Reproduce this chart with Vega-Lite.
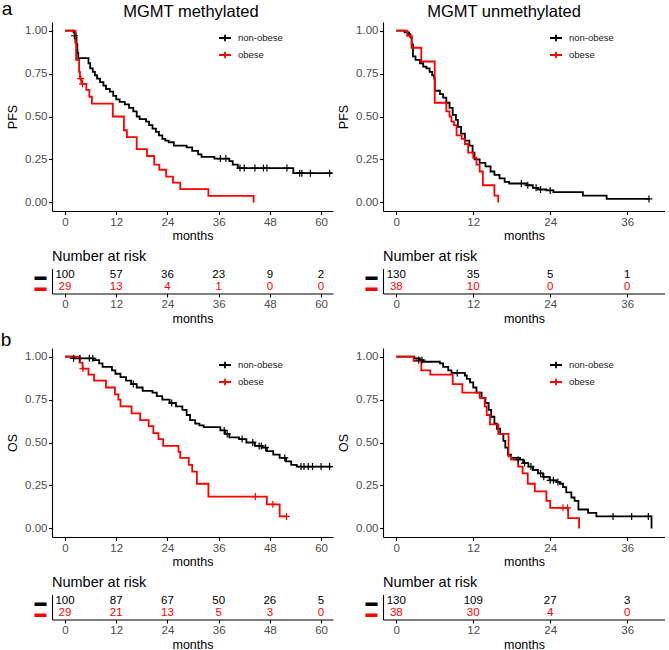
{
  "$schema": "https://vega.github.io/schema/vega-lite/v6.json",
  "padding": {"left": 0, "top": 0, "right": 0, "bottom": 0},
  "config": {
    "font": "Liberation Sans",
    "view": {"stroke": null},
    "axis": {"grid": false, "domainColor": "#000000", "domainWidth": 1.1, "tickColor": "#000000", "tickWidth": 1.1, "tickSize": 3.5, "labelColor": "#4D4D4D", "labelFontSize": 11.5, "labelPadding": 1.5, "titleFontSize": 12.5, "titleFontWeight": "normal", "titleColor": "#000000", "titlePadding": 2},
    "axisY": {"titlePadding": 5},
    "title": {"fontSize": 14.5, "fontWeight": "normal", "color": "#000000", "offset": 4, "frame": "group", "anchor": "start"},
    "legend": {"labelFontSize": 9.5, "labelColor": "#1a1a1a", "padding": 0, "rowPadding": 3, "symbolStrokeWidth": 1.8, "labelOffset": 6, "symbolType": "M-1,0H1M0,-0.55V0.55", "symbolSize": 144, "title": null}
  },
  "columns": 2,
  "spacing": {"row": 6.5, "column": 1},
  "align": "each",
  "resolve": {"scale": {"color": "independent", "x": "independent", "y": "independent"}, "legend": {"color": "independent"}},
  "datasets": {
    "km": [
      {"p":"A1","g":"non-obese","t":0,"s":1},{"p":"A1","g":"non-obese","t":2.0,"s":0.99},{"p":"A1","g":"non-obese","t":2.5,"s":0.96},{"p":"A1","g":"non-obese","t":2.7,"s":0.92},{"p":"A1","g":"non-obese","t":2.9,"s":0.87},{"p":"A1","g":"non-obese","t":3.1,"s":0.84},{"p":"A1","g":"non-obese","t":5.5,"s":0.81},{"p":"A1","g":"non-obese","t":5.9,"s":0.78},{"p":"A1","g":"non-obese","t":6.5,"s":0.76},{"p":"A1","g":"non-obese","t":7.0,"s":0.74},{"p":"A1","g":"non-obese","t":7.5,"s":0.72},{"p":"A1","g":"non-obese","t":8.2,"s":0.70},{"p":"A1","g":"non-obese","t":9.0,"s":0.68},{"p":"A1","g":"non-obese","t":9.6,"s":0.66},{"p":"A1","g":"non-obese","t":10.5,"s":0.645},{"p":"A1","g":"non-obese","t":11.3,"s":0.62},{"p":"A1","g":"non-obese","t":12.0,"s":0.60},{"p":"A1","g":"non-obese","t":12.8,"s":0.585},{"p":"A1","g":"non-obese","t":14.0,"s":0.57},{"p":"A1","g":"non-obese","t":15.0,"s":0.55},{"p":"A1","g":"non-obese","t":16.0,"s":0.53},{"p":"A1","g":"non-obese","t":16.8,"s":0.50},{"p":"A1","g":"non-obese","t":17.5,"s":0.485},{"p":"A1","g":"non-obese","t":19.0,"s":0.47},{"p":"A1","g":"non-obese","t":19.7,"s":0.45},{"p":"A1","g":"non-obese","t":20.5,"s":0.43},{"p":"A1","g":"non-obese","t":21.3,"s":0.41},{"p":"A1","g":"non-obese","t":22.0,"s":0.39},{"p":"A1","g":"non-obese","t":22.8,"s":0.37},{"p":"A1","g":"non-obese","t":23.5,"s":0.36},{"p":"A1","g":"non-obese","t":24.3,"s":0.35},{"p":"A1","g":"non-obese","t":25.5,"s":0.33},{"p":"A1","g":"non-obese","t":28.5,"s":0.32},{"p":"A1","g":"non-obese","t":29.8,"s":0.30},{"p":"A1","g":"non-obese","t":31.2,"s":0.28},{"p":"A1","g":"non-obese","t":32.0,"s":0.265},{"p":"A1","g":"non-obese","t":35.0,"s":0.255},{"p":"A1","g":"non-obese","t":38.5,"s":0.24},{"p":"A1","g":"non-obese","t":39.3,"s":0.22},{"p":"A1","g":"non-obese","t":40.5,"s":0.20},{"p":"A1","g":"non-obese","t":53.5,"s":0.17},{"p":"A1","g":"non-obese","t":62.5,"s":0.17},
      {"p":"A1","g":"obese","t":0,"s":1},{"p":"A1","g":"obese","t":2.4,"s":0.93},{"p":"A1","g":"obese","t":2.6,"s":0.83},{"p":"A1","g":"obese","t":3.3,"s":0.76},{"p":"A1","g":"obese","t":3.5,"s":0.72},{"p":"A1","g":"obese","t":3.9,"s":0.69},{"p":"A1","g":"obese","t":5.0,"s":0.655},{"p":"A1","g":"obese","t":5.7,"s":0.615},{"p":"A1","g":"obese","t":6.3,"s":0.575},{"p":"A1","g":"obese","t":11.2,"s":0.50},{"p":"A1","g":"obese","t":13.8,"s":0.42},{"p":"A1","g":"obese","t":14.5,"s":0.38},{"p":"A1","g":"obese","t":16.8,"s":0.31},{"p":"A1","g":"obese","t":19.2,"s":0.27},{"p":"A1","g":"obese","t":20.9,"s":0.22},{"p":"A1","g":"obese","t":22.1,"s":0.19},{"p":"A1","g":"obese","t":23.7,"s":0.15},{"p":"A1","g":"obese","t":25.3,"s":0.115},{"p":"A1","g":"obese","t":27.0,"s":0.077},{"p":"A1","g":"obese","t":33.6,"s":0.038},{"p":"A1","g":"obese","t":44.2,"s":0.0},
      {"p":"A2","g":"non-obese","t":0,"s":1},{"p":"A2","g":"non-obese","t":1.3,"s":0.99},{"p":"A2","g":"non-obese","t":2.0,"s":0.98},{"p":"A2","g":"non-obese","t":2.2,"s":0.96},{"p":"A2","g":"non-obese","t":2.4,"s":0.92},{"p":"A2","g":"non-obese","t":2.6,"s":0.85},{"p":"A2","g":"non-obese","t":3.0,"s":0.83},{"p":"A2","g":"non-obese","t":3.7,"s":0.81},{"p":"A2","g":"non-obese","t":4.2,"s":0.79},{"p":"A2","g":"non-obese","t":4.7,"s":0.78},{"p":"A2","g":"non-obese","t":5.2,"s":0.76},{"p":"A2","g":"non-obese","t":5.6,"s":0.74},{"p":"A2","g":"non-obese","t":5.9,"s":0.72},{"p":"A2","g":"non-obese","t":6.0,"s":0.65},{"p":"A2","g":"non-obese","t":6.8,"s":0.63},{"p":"A2","g":"non-obese","t":7.3,"s":0.61},{"p":"A2","g":"non-obese","t":7.8,"s":0.58},{"p":"A2","g":"non-obese","t":8.3,"s":0.55},{"p":"A2","g":"non-obese","t":8.8,"s":0.51},{"p":"A2","g":"non-obese","t":9.3,"s":0.48},{"p":"A2","g":"non-obese","t":9.6,"s":0.44},{"p":"A2","g":"non-obese","t":10.1,"s":0.40},{"p":"A2","g":"non-obese","t":10.7,"s":0.36},{"p":"A2","g":"non-obese","t":11.4,"s":0.33},{"p":"A2","g":"non-obese","t":11.9,"s":0.29},{"p":"A2","g":"non-obese","t":12.2,"s":0.25},{"p":"A2","g":"non-obese","t":13.0,"s":0.23},{"p":"A2","g":"non-obese","t":13.9,"s":0.21},{"p":"A2","g":"non-obese","t":14.7,"s":0.18},{"p":"A2","g":"non-obese","t":15.3,"s":0.16},{"p":"A2","g":"non-obese","t":16.1,"s":0.14},{"p":"A2","g":"non-obese","t":16.9,"s":0.12},{"p":"A2","g":"non-obese","t":17.6,"s":0.11},{"p":"A2","g":"non-obese","t":20.3,"s":0.10},{"p":"A2","g":"non-obese","t":21.3,"s":0.085},{"p":"A2","g":"non-obese","t":22.1,"s":0.075},{"p":"A2","g":"non-obese","t":23.4,"s":0.07},{"p":"A2","g":"non-obese","t":24.5,"s":0.06},{"p":"A2","g":"non-obese","t":29.1,"s":0.04},{"p":"A2","g":"non-obese","t":32.8,"s":0.02},{"p":"A2","g":"non-obese","t":39.5,"s":0.02},
      {"p":"A2","g":"obese","t":0,"s":1},{"p":"A2","g":"obese","t":1.7,"s":0.97},{"p":"A2","g":"obese","t":2.4,"s":0.90},{"p":"A2","g":"obese","t":3.9,"s":0.82},{"p":"A2","g":"obese","t":6.0,"s":0.58},{"p":"A2","g":"obese","t":7.8,"s":0.53},{"p":"A2","g":"obese","t":8.3,"s":0.50},{"p":"A2","g":"obese","t":8.6,"s":0.47},{"p":"A2","g":"obese","t":9.0,"s":0.45},{"p":"A2","g":"obese","t":9.4,"s":0.39},{"p":"A2","g":"obese","t":10.2,"s":0.37},{"p":"A2","g":"obese","t":10.7,"s":0.34},{"p":"A2","g":"obese","t":11.2,"s":0.29},{"p":"A2","g":"obese","t":12.0,"s":0.26},{"p":"A2","g":"obese","t":12.5,"s":0.22},{"p":"A2","g":"obese","t":13.0,"s":0.18},{"p":"A2","g":"obese","t":13.5,"s":0.10},{"p":"A2","g":"obese","t":15.3,"s":0.04},{"p":"A2","g":"obese","t":15.9,"s":0.0},
      {"p":"B1","g":"non-obese","t":0,"s":1},{"p":"B1","g":"non-obese","t":2.2,"s":0.99},{"p":"B1","g":"non-obese","t":6.6,"s":0.98},{"p":"B1","g":"non-obese","t":8.0,"s":0.96},{"p":"B1","g":"non-obese","t":8.8,"s":0.94},{"p":"B1","g":"non-obese","t":11.0,"s":0.92},{"p":"B1","g":"non-obese","t":11.8,"s":0.90},{"p":"B1","g":"non-obese","t":13.0,"s":0.88},{"p":"B1","g":"non-obese","t":14.3,"s":0.86},{"p":"B1","g":"non-obese","t":15.5,"s":0.84},{"p":"B1","g":"non-obese","t":16.8,"s":0.82},{"p":"B1","g":"non-obese","t":18.2,"s":0.80},{"p":"B1","g":"non-obese","t":20.5,"s":0.79},{"p":"B1","g":"non-obese","t":21.5,"s":0.77},{"p":"B1","g":"non-obese","t":22.8,"s":0.75},{"p":"B1","g":"non-obese","t":24.5,"s":0.73},{"p":"B1","g":"non-obese","t":26.0,"s":0.71},{"p":"B1","g":"non-obese","t":27.5,"s":0.69},{"p":"B1","g":"non-obese","t":28.5,"s":0.66},{"p":"B1","g":"non-obese","t":29.3,"s":0.63},{"p":"B1","g":"non-obese","t":30.5,"s":0.61},{"p":"B1","g":"non-obese","t":31.5,"s":0.60},{"p":"B1","g":"non-obese","t":32.5,"s":0.59},{"p":"B1","g":"non-obese","t":36.4,"s":0.57},{"p":"B1","g":"non-obese","t":37.5,"s":0.55},{"p":"B1","g":"non-obese","t":38.5,"s":0.53},{"p":"B1","g":"non-obese","t":40.8,"s":0.52},{"p":"B1","g":"non-obese","t":42.5,"s":0.50},{"p":"B1","g":"non-obese","t":44.5,"s":0.48},{"p":"B1","g":"non-obese","t":46.3,"s":0.47},{"p":"B1","g":"non-obese","t":47.3,"s":0.45},{"p":"B1","g":"non-obese","t":48.8,"s":0.43},{"p":"B1","g":"non-obese","t":50.3,"s":0.41},{"p":"B1","g":"non-obese","t":51.8,"s":0.39},{"p":"B1","g":"non-obese","t":53.0,"s":0.37},{"p":"B1","g":"non-obese","t":54.3,"s":0.36},{"p":"B1","g":"non-obese","t":62.5,"s":0.36},
      {"p":"B1","g":"obese","t":0,"s":1},{"p":"B1","g":"obese","t":3.4,"s":0.965},{"p":"B1","g":"obese","t":4.1,"s":0.93},{"p":"B1","g":"obese","t":5.5,"s":0.895},{"p":"B1","g":"obese","t":6.8,"s":0.86},{"p":"B1","g":"obese","t":9.6,"s":0.82},{"p":"B1","g":"obese","t":11.7,"s":0.78},{"p":"B1","g":"obese","t":12.5,"s":0.75},{"p":"B1","g":"obese","t":13.0,"s":0.71},{"p":"B1","g":"obese","t":15.6,"s":0.67},{"p":"B1","g":"obese","t":17.6,"s":0.63},{"p":"B1","g":"obese","t":19.6,"s":0.595},{"p":"B1","g":"obese","t":20.7,"s":0.555},{"p":"B1","g":"obese","t":21.9,"s":0.52},{"p":"B1","g":"obese","t":23.0,"s":0.48},{"p":"B1","g":"obese","t":26.6,"s":0.445},{"p":"B1","g":"obese","t":27.0,"s":0.41},{"p":"B1","g":"obese","t":29.0,"s":0.37},{"p":"B1","g":"obese","t":29.8,"s":0.33},{"p":"B1","g":"obese","t":30.9,"s":0.26},{"p":"B1","g":"obese","t":33.6,"s":0.185},{"p":"B1","g":"obese","t":47.3,"s":0.14},{"p":"B1","g":"obese","t":50.3,"s":0.07},{"p":"B1","g":"obese","t":52.0,"s":0.07},
      {"p":"B2","g":"non-obese","t":0,"s":1},{"p":"B2","g":"non-obese","t":2.8,"s":0.99},{"p":"B2","g":"non-obese","t":3.7,"s":0.98},{"p":"B2","g":"non-obese","t":4.2,"s":0.97},{"p":"B2","g":"non-obese","t":6.8,"s":0.96},{"p":"B2","g":"non-obese","t":7.3,"s":0.94},{"p":"B2","g":"non-obese","t":8.1,"s":0.92},{"p":"B2","g":"non-obese","t":8.6,"s":0.905},{"p":"B2","g":"non-obese","t":10.7,"s":0.89},{"p":"B2","g":"non-obese","t":11.0,"s":0.87},{"p":"B2","g":"non-obese","t":11.5,"s":0.85},{"p":"B2","g":"non-obese","t":12.0,"s":0.82},{"p":"B2","g":"non-obese","t":12.5,"s":0.79},{"p":"B2","g":"non-obese","t":13.3,"s":0.76},{"p":"B2","g":"non-obese","t":13.9,"s":0.73},{"p":"B2","g":"non-obese","t":14.4,"s":0.69},{"p":"B2","g":"non-obese","t":14.8,"s":0.65},{"p":"B2","g":"non-obese","t":15.3,"s":0.61},{"p":"B2","g":"non-obese","t":15.7,"s":0.58},{"p":"B2","g":"non-obese","t":16.2,"s":0.55},{"p":"B2","g":"non-obese","t":16.7,"s":0.51},{"p":"B2","g":"non-obese","t":17.0,"s":0.47},{"p":"B2","g":"non-obese","t":17.4,"s":0.43},{"p":"B2","g":"non-obese","t":17.9,"s":0.41},{"p":"B2","g":"non-obese","t":19.3,"s":0.40},{"p":"B2","g":"non-obese","t":19.8,"s":0.38},{"p":"B2","g":"non-obese","t":20.6,"s":0.36},{"p":"B2","g":"non-obese","t":21.3,"s":0.34},{"p":"B2","g":"non-obese","t":22.1,"s":0.32},{"p":"B2","g":"non-obese","t":22.9,"s":0.30},{"p":"B2","g":"non-obese","t":23.9,"s":0.28},{"p":"B2","g":"non-obese","t":25.0,"s":0.27},{"p":"B2","g":"non-obese","t":25.5,"s":0.26},{"p":"B2","g":"non-obese","t":26.0,"s":0.24},{"p":"B2","g":"non-obese","t":26.5,"s":0.21},{"p":"B2","g":"non-obese","t":27.3,"s":0.18},{"p":"B2","g":"non-obese","t":27.8,"s":0.16},{"p":"B2","g":"non-obese","t":28.4,"s":0.11},{"p":"B2","g":"non-obese","t":29.9,"s":0.09},{"p":"B2","g":"non-obese","t":31.2,"s":0.07},{"p":"B2","g":"non-obese","t":39.8,"s":0.0},
      {"p":"B2","g":"obese","t":0,"s":1},{"p":"B2","g":"obese","t":2.7,"s":0.975},{"p":"B2","g":"obese","t":3.9,"s":0.92},{"p":"B2","g":"obese","t":5.3,"s":0.895},{"p":"B2","g":"obese","t":8.8,"s":0.84},{"p":"B2","g":"obese","t":10.3,"s":0.79},{"p":"B2","g":"obese","t":13.0,"s":0.76},{"p":"B2","g":"obese","t":13.8,"s":0.71},{"p":"B2","g":"obese","t":14.1,"s":0.66},{"p":"B2","g":"obese","t":14.6,"s":0.605},{"p":"B2","g":"obese","t":15.9,"s":0.55},{"p":"B2","g":"obese","t":17.5,"s":0.42},{"p":"B2","g":"obese","t":17.9,"s":0.40},{"p":"B2","g":"obese","t":19.0,"s":0.36},{"p":"B2","g":"obese","t":19.7,"s":0.32},{"p":"B2","g":"obese","t":20.5,"s":0.26},{"p":"B2","g":"obese","t":21.6,"s":0.215},{"p":"B2","g":"obese","t":23.4,"s":0.16},{"p":"B2","g":"obese","t":24.0,"s":0.12},{"p":"B2","g":"obese","t":26.8,"s":0.06},{"p":"B2","g":"obese","t":28.5,"s":0.0}
    ],
    "cens": [
      {"p":"A1","g":"non-obese","t":2.2,"s":0.97},{"p":"A1","g":"non-obese","t":36.4,"s":0.255},{"p":"A1","g":"non-obese","t":37.7,"s":0.255},{"p":"A1","g":"non-obese","t":41.0,"s":0.20},{"p":"A1","g":"non-obese","t":42.0,"s":0.20},{"p":"A1","g":"non-obese","t":44.5,"s":0.20},{"p":"A1","g":"non-obese","t":46.5,"s":0.20},{"p":"A1","g":"non-obese","t":47.3,"s":0.20},{"p":"A1","g":"non-obese","t":52.0,"s":0.20},{"p":"A1","g":"non-obese","t":55.0,"s":0.17},{"p":"A1","g":"non-obese","t":55.5,"s":0.17},{"p":"A1","g":"non-obese","t":57.5,"s":0.17},{"p":"A1","g":"non-obese","t":62.0,"s":0.17},
      {"p":"A1","g":"obese","t":3.7,"s":0.72},{"p":"A1","g":"obese","t":4.1,"s":0.69},
      {"p":"A2","g":"non-obese","t":19.5,"s":0.11},{"p":"A2","g":"non-obese","t":20.5,"s":0.10},{"p":"A2","g":"non-obese","t":21.8,"s":0.085},{"p":"A2","g":"non-obese","t":22.5,"s":0.075},{"p":"A2","g":"non-obese","t":24.0,"s":0.07},{"p":"A2","g":"non-obese","t":39.4,"s":0.02},
      {"p":"B1","g":"non-obese","t":2.0,"s":0.99},{"p":"B1","g":"non-obese","t":3.5,"s":0.99},{"p":"B1","g":"non-obese","t":5.7,"s":0.99},{"p":"B1","g":"non-obese","t":6.5,"s":0.99},{"p":"B1","g":"non-obese","t":16.0,"s":0.84},{"p":"B1","g":"non-obese","t":25.0,"s":0.73},{"p":"B1","g":"non-obese","t":37.3,"s":0.57},{"p":"B1","g":"non-obese","t":38.0,"s":0.55},{"p":"B1","g":"non-obese","t":41.5,"s":0.52},{"p":"B1","g":"non-obese","t":44.0,"s":0.50},{"p":"B1","g":"non-obese","t":45.5,"s":0.48},{"p":"B1","g":"non-obese","t":46.0,"s":0.48},{"p":"B1","g":"non-obese","t":47.0,"s":0.47},{"p":"B1","g":"non-obese","t":51.5,"s":0.41},{"p":"B1","g":"non-obese","t":55.3,"s":0.36},{"p":"B1","g":"non-obese","t":56.0,"s":0.36},{"p":"B1","g":"non-obese","t":57.0,"s":0.36},{"p":"B1","g":"non-obese","t":58.0,"s":0.36},{"p":"B1","g":"non-obese","t":60.0,"s":0.36},{"p":"B1","g":"non-obese","t":62.0,"s":0.36},
      {"p":"B1","g":"obese","t":4.2,"s":0.93},{"p":"B1","g":"obese","t":44.6,"s":0.185},{"p":"B1","g":"obese","t":48.7,"s":0.14},{"p":"B1","g":"obese","t":51.9,"s":0.07},
      {"p":"B2","g":"non-obese","t":3.5,"s":0.98},{"p":"B2","g":"non-obese","t":4.0,"s":0.98},{"p":"B2","g":"non-obese","t":9.5,"s":0.905},{"p":"B2","g":"non-obese","t":19.0,"s":0.40},{"p":"B2","g":"non-obese","t":20.0,"s":0.38},{"p":"B2","g":"non-obese","t":21.0,"s":0.36},{"p":"B2","g":"non-obese","t":22.5,"s":0.32},{"p":"B2","g":"non-obese","t":23.0,"s":0.30},{"p":"B2","g":"non-obese","t":24.0,"s":0.28},{"p":"B2","g":"non-obese","t":24.5,"s":0.28},{"p":"B2","g":"non-obese","t":25.2,"s":0.27},{"p":"B2","g":"non-obese","t":33.8,"s":0.07},{"p":"B2","g":"non-obese","t":36.7,"s":0.07},{"p":"B2","g":"non-obese","t":39.3,"s":0.07},
      {"p":"B2","g":"obese","t":26.0,"s":0.12},{"p":"B2","g":"obese","t":26.7,"s":0.12}
    ],
    "risk": [
      {"p":"A1","g":"non-obese","t":0,"n":100},{"p":"A1","g":"non-obese","t":12,"n":57},{"p":"A1","g":"non-obese","t":24,"n":36},{"p":"A1","g":"non-obese","t":36,"n":23},{"p":"A1","g":"non-obese","t":48,"n":9},{"p":"A1","g":"non-obese","t":60,"n":2},
      {"p":"A1","g":"obese","t":0,"n":29},{"p":"A1","g":"obese","t":12,"n":13},{"p":"A1","g":"obese","t":24,"n":4},{"p":"A1","g":"obese","t":36,"n":1},{"p":"A1","g":"obese","t":48,"n":0},{"p":"A1","g":"obese","t":60,"n":0},
      {"p":"A2","g":"non-obese","t":0,"n":130},{"p":"A2","g":"non-obese","t":12,"n":35},{"p":"A2","g":"non-obese","t":24,"n":5},{"p":"A2","g":"non-obese","t":36,"n":1},
      {"p":"A2","g":"obese","t":0,"n":38},{"p":"A2","g":"obese","t":12,"n":10},{"p":"A2","g":"obese","t":24,"n":0},{"p":"A2","g":"obese","t":36,"n":0},
      {"p":"B1","g":"non-obese","t":0,"n":100},{"p":"B1","g":"non-obese","t":12,"n":87},{"p":"B1","g":"non-obese","t":24,"n":67},{"p":"B1","g":"non-obese","t":36,"n":50},{"p":"B1","g":"non-obese","t":48,"n":26},{"p":"B1","g":"non-obese","t":60,"n":5},
      {"p":"B1","g":"obese","t":0,"n":29},{"p":"B1","g":"obese","t":12,"n":21},{"p":"B1","g":"obese","t":24,"n":13},{"p":"B1","g":"obese","t":36,"n":5},{"p":"B1","g":"obese","t":48,"n":3},{"p":"B1","g":"obese","t":60,"n":0},
      {"p":"B2","g":"non-obese","t":0,"n":130},{"p":"B2","g":"non-obese","t":12,"n":109},{"p":"B2","g":"non-obese","t":24,"n":27},{"p":"B2","g":"non-obese","t":36,"n":3},
      {"p":"B2","g":"obese","t":0,"n":38},{"p":"B2","g":"obese","t":12,"n":30},{"p":"B2","g":"obese","t":24,"n":4},{"p":"B2","g":"obese","t":36,"n":0}
    ],
    "labels": [
      {"p":"A1","k":"tag","label":"a"},
      {"p":"A1","k":"title","label":"MGMT methylated"},
      {"p":"A2","k":"title","label":"MGMT unmethylated"},
      {"p":"B1","k":"tag","label":"b"}
    ]
  },
  "concat": [
    {
      "width": 281, "height": 189,
      "layer": [
        {"data": {"name": "km"}, "transform": [{"filter": "datum.p === 'A1'"}],
         "mark": {"type": "line", "interpolate": "step-after", "strokeWidth": 1.8, "clip": true},
         "encoding": {
           "x": {"field": "t", "type": "quantitative", "scale": {"domain": [-3.05, 62.8], "nice": false, "zero": false}, "axis": {"values": [0, 12, 24, 36, 48, 60], "title": "months"}},
           "y": {"field": "s", "type": "quantitative", "scale": {"domain": [-0.05, 1.05], "nice": false}, "axis": {"values": [0, 0.25, 0.5, 0.75, 1], "format": ".2f", "title": "PFS"}},
           "color": {"field": "g", "type": "nominal", "scale": {"domain": ["non-obese", "obese"], "range": ["#000000", "#FF0000"]}, "legend": {"orient": "none", "legendX": 166, "legendY": 9}}
         }},
        {"data": {"name": "cens"}, "transform": [{"filter": "datum.p === 'A1'"}],
         "mark": {"type": "point", "shape": "M-1,0H1M0,-1V1", "filled": false, "size": 49, "strokeWidth": 1.2, "opacity": 1},
         "encoding": {
           "x": {"field": "t", "type": "quantitative"},
           "y": {"field": "s", "type": "quantitative"},
           "color": {"field": "g", "type": "nominal"}
         }},
        {"data": {"name": "labels"}, "transform": [{"filter": "datum.p === 'A1' && datum.k === 'tag'"}],
         "mark": {"type": "text", "fontSize": 19, "align": "center", "baseline": "alphabetic", "color": "#000000"},
         "encoding": {"x": {"datum": -13.6}, "y": {"datum": 1.089}, "text": {"field": "label"}}},
        {"data": {"name": "labels"}, "transform": [{"filter": "datum.p === 'A1' && datum.k === 'title'"}],
         "mark": {"type": "text", "fontSize": 16.5, "align": "center", "baseline": "alphabetic", "color": "#000000"},
         "encoding": {"x": {"datum": 29.5}, "y": {"datum": 1.077}, "text": {"field": "label"}}}
      ]
    },
    {
      "width": 282, "height": 189,
      "layer": [
        {"data": {"name": "km"}, "transform": [{"filter": "datum.p === 'A2'"}],
         "mark": {"type": "line", "interpolate": "step-after", "strokeWidth": 1.8, "clip": true},
         "encoding": {
           "x": {"field": "t", "type": "quantitative", "scale": {"domain": [-2.07, 41.9], "nice": false, "zero": false}, "axis": {"values": [0, 12, 24, 36], "title": "months"}},
           "y": {"field": "s", "type": "quantitative", "scale": {"domain": [-0.05, 1.05], "nice": false}, "axis": {"values": [0, 0.25, 0.5, 0.75, 1], "format": ".2f", "title": "PFS"}},
           "color": {"field": "g", "type": "nominal", "scale": {"domain": ["non-obese", "obese"], "range": ["#000000", "#FF0000"]}, "legend": {"orient": "none", "legendX": 166, "legendY": 9}}
         }},
        {"data": {"name": "cens"}, "transform": [{"filter": "datum.p === 'A2'"}],
         "mark": {"type": "point", "shape": "M-1,0H1M0,-1V1", "filled": false, "size": 49, "strokeWidth": 1.2, "opacity": 1},
         "encoding": {
           "x": {"field": "t", "type": "quantitative"},
           "y": {"field": "s", "type": "quantitative"},
           "color": {"field": "g", "type": "nominal"}
         }},
        {"data": {"name": "labels"}, "transform": [{"filter": "datum.p === 'A2' && datum.k === 'title'"}],
         "mark": {"type": "text", "fontSize": 16.5, "align": "center", "baseline": "alphabetic", "color": "#000000"},
         "encoding": {"x": {"datum": 16.8}, "y": {"datum": 1.077}, "text": {"field": "label"}}}
      ]
    },
    {
      "width": 281, "height": 25,
      "title": {"text": "Number at risk"},
      "data": {"name": "risk"}, "transform": [{"filter": "datum.p === 'A1'"}],
      "mark": {"type": "text", "fontSize": 11.5, "baseline": "middle"},
      "encoding": {
        "x": {"field": "t", "type": "quantitative", "scale": {"domain": [-3.05, 62.8], "nice": false, "zero": false}, "axis": {"values": [0, 12, 24, 36, 48, 60], "title": "months"}},
        "y": {"field": "g", "type": "nominal", "scale": {"type": "point", "domain": ["non-obese", "obese"], "padding": 0.636}, "axis": {"title": null, "ticks": false, "labelExpr": "'▬'", "labelFontSize": 12, "labelPadding": 6, "labelColor": {"condition": {"test": "datum.value === 'obese'", "value": "#FF0000"}, "value": "#000000"}}},
        "text": {"field": "n", "type": "quantitative"},
        "color": {"field": "g", "type": "nominal", "scale": {"domain": ["non-obese", "obese"], "range": ["#000000", "#FF0000"]}, "legend": null}
      }
    },
    {
      "width": 282, "height": 25,
      "title": {"text": "Number at risk"},
      "data": {"name": "risk"}, "transform": [{"filter": "datum.p === 'A2'"}],
      "mark": {"type": "text", "fontSize": 11.5, "baseline": "middle"},
      "encoding": {
        "x": {"field": "t", "type": "quantitative", "scale": {"domain": [-2.07, 41.9], "nice": false, "zero": false}, "axis": {"values": [0, 12, 24, 36], "title": "months"}},
        "y": {"field": "g", "type": "nominal", "scale": {"type": "point", "domain": ["non-obese", "obese"], "padding": 0.636}, "axis": {"title": null, "ticks": false, "labelExpr": "'▬'", "labelFontSize": 12, "labelPadding": 6, "labelColor": {"condition": {"test": "datum.value === 'obese'", "value": "#FF0000"}, "value": "#000000"}}},
        "text": {"field": "n", "type": "quantitative"},
        "color": {"field": "g", "type": "nominal", "scale": {"domain": ["non-obese", "obese"], "range": ["#000000", "#FF0000"]}, "legend": null}
      }
    },
    {
      "width": 281, "height": 189,
      "layer": [
        {"data": {"name": "km"}, "transform": [{"filter": "datum.p === 'B1'"}],
         "mark": {"type": "line", "interpolate": "step-after", "strokeWidth": 1.8, "clip": true},
         "encoding": {
           "x": {"field": "t", "type": "quantitative", "scale": {"domain": [-3.05, 62.8], "nice": false, "zero": false}, "axis": {"values": [0, 12, 24, 36, 48, 60], "title": "months"}},
           "y": {"field": "s", "type": "quantitative", "scale": {"domain": [-0.05, 1.05], "nice": false}, "axis": {"values": [0, 0.25, 0.5, 0.75, 1], "format": ".2f", "title": "OS"}},
           "color": {"field": "g", "type": "nominal", "scale": {"domain": ["non-obese", "obese"], "range": ["#000000", "#FF0000"]}, "legend": {"orient": "none", "legendX": 166, "legendY": 10}}
         }},
        {"data": {"name": "cens"}, "transform": [{"filter": "datum.p === 'B1'"}],
         "mark": {"type": "point", "shape": "M-1,0H1M0,-1V1", "filled": false, "size": 49, "strokeWidth": 1.2, "opacity": 1},
         "encoding": {
           "x": {"field": "t", "type": "quantitative"},
           "y": {"field": "s", "type": "quantitative"},
           "color": {"field": "g", "type": "nominal"}
         }},
        {"data": {"name": "labels"}, "transform": [{"filter": "datum.p === 'B1' && datum.k === 'tag'"}],
         "mark": {"type": "text", "fontSize": 19, "align": "center", "baseline": "alphabetic", "color": "#000000"},
         "encoding": {"x": {"datum": -13.8}, "y": {"datum": 1.061}, "text": {"field": "label"}}}
      ]
    },
    {
      "width": 282, "height": 189,
      "layer": [
        {"data": {"name": "km"}, "transform": [{"filter": "datum.p === 'B2'"}],
         "mark": {"type": "line", "interpolate": "step-after", "strokeWidth": 1.8, "clip": true},
         "encoding": {
           "x": {"field": "t", "type": "quantitative", "scale": {"domain": [-2.07, 41.9], "nice": false, "zero": false}, "axis": {"values": [0, 12, 24, 36], "title": "months"}},
           "y": {"field": "s", "type": "quantitative", "scale": {"domain": [-0.05, 1.05], "nice": false}, "axis": {"values": [0, 0.25, 0.5, 0.75, 1], "format": ".2f", "title": "OS"}},
           "color": {"field": "g", "type": "nominal", "scale": {"domain": ["non-obese", "obese"], "range": ["#000000", "#FF0000"]}, "legend": {"orient": "none", "legendX": 166, "legendY": 10}}
         }},
        {"data": {"name": "cens"}, "transform": [{"filter": "datum.p === 'B2'"}],
         "mark": {"type": "point", "shape": "M-1,0H1M0,-1V1", "filled": false, "size": 49, "strokeWidth": 1.2, "opacity": 1},
         "encoding": {
           "x": {"field": "t", "type": "quantitative"},
           "y": {"field": "s", "type": "quantitative"},
           "color": {"field": "g", "type": "nominal"}
         }}
      ]
    },
    {
      "width": 281, "height": 25,
      "title": {"text": "Number at risk"},
      "data": {"name": "risk"}, "transform": [{"filter": "datum.p === 'B1'"}],
      "mark": {"type": "text", "fontSize": 11.5, "baseline": "middle"},
      "encoding": {
        "x": {"field": "t", "type": "quantitative", "scale": {"domain": [-3.05, 62.8], "nice": false, "zero": false}, "axis": {"values": [0, 12, 24, 36, 48, 60], "title": "months"}},
        "y": {"field": "g", "type": "nominal", "scale": {"type": "point", "domain": ["non-obese", "obese"], "padding": 0.636}, "axis": {"title": null, "ticks": false, "labelExpr": "'▬'", "labelFontSize": 12, "labelPadding": 6, "labelColor": {"condition": {"test": "datum.value === 'obese'", "value": "#FF0000"}, "value": "#000000"}}},
        "text": {"field": "n", "type": "quantitative"},
        "color": {"field": "g", "type": "nominal", "scale": {"domain": ["non-obese", "obese"], "range": ["#000000", "#FF0000"]}, "legend": null}
      }
    },
    {
      "width": 282, "height": 25,
      "title": {"text": "Number at risk"},
      "data": {"name": "risk"}, "transform": [{"filter": "datum.p === 'B2'"}],
      "mark": {"type": "text", "fontSize": 11.5, "baseline": "middle"},
      "encoding": {
        "x": {"field": "t", "type": "quantitative", "scale": {"domain": [-2.07, 41.9], "nice": false, "zero": false}, "axis": {"values": [0, 12, 24, 36], "title": "months"}},
        "y": {"field": "g", "type": "nominal", "scale": {"type": "point", "domain": ["non-obese", "obese"], "padding": 0.636}, "axis": {"title": null, "ticks": false, "labelExpr": "'▬'", "labelFontSize": 12, "labelPadding": 6, "labelColor": {"condition": {"test": "datum.value === 'obese'", "value": "#FF0000"}, "value": "#000000"}}},
        "text": {"field": "n", "type": "quantitative"},
        "color": {"field": "g", "type": "nominal", "scale": {"domain": ["non-obese", "obese"], "range": ["#000000", "#FF0000"]}, "legend": null}
      }
    }
  ]
}
